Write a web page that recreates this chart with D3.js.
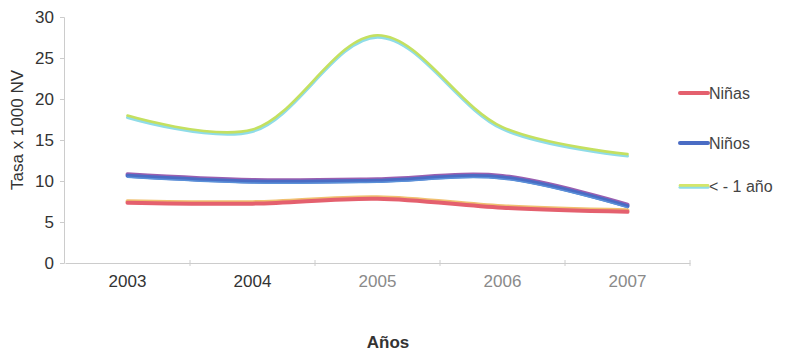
<!DOCTYPE html>
<html><head><meta charset="utf-8">
<script src="https://cdn.jsdelivr.net/npm/d3@7"></script>
<style>body{margin:0;background:#fff}svg{display:block}text{font-family:"Liberation Sans",Arial,sans-serif}</style>
</head><body>
<svg id="c" width="790" height="351"></svg>
<script>
const years = ["2003","2004","2005","2006","2007"];
const ninas = [7.4, 7.3, 7.9, 6.8, 6.3];
const ninos = [10.7, 10.0, 10.1, 10.5, 7.0];
const menor1 = [17.9, 16.2, 27.7, 16.5, 13.2];
const yTicks = [0,5,10,15,20,25,30];

const svg = d3.select("#c");
const x = d3.scaleBand().domain(years).range([65, 690]);
const y = d3.scaleLinear().domain([0,30]).range([263, 17]);

// axes
const gy = svg.append("g").attr("transform","translate(64,0)")
  .call(d3.axisLeft(y).tickValues(yTicks).tickSize(4).tickPadding(6));
gy.select(".domain").attr("stroke","#ccc");
gy.selectAll(".tick line").attr("stroke","#ccc");
gy.selectAll("text").attr("font-size",17).attr("fill","#333");

const gx = svg.append("g").attr("transform","translate(0,263)")
  .call(d3.axisBottom(x).tickSize(0).tickPadding(12));
gx.select(".domain").attr("stroke","#ccc");
gx.selectAll("text").attr("font-size",17).attr("fill",(d,i)=> i<2 ? "#333" : "#8a8a8a");
// band boundary ticks
gx.selectAll(".bt").data(years).enter().append("line")
  .attr("x1",(d,i)=> x(years[0]) + x.bandwidth()*(i+1))
  .attr("x2",(d,i)=> x(years[0]) + x.bandwidth()*(i+1))
  .attr("y1",-3).attr("y2",3).attr("stroke","#ccc");

svg.append("text").attr("x",388).attr("y",348).attr("text-anchor","middle")
  .attr("font-size",17).attr("font-weight","bold").attr("fill","#333").text("Años");
svg.append("text").attr("transform","translate(23,130) rotate(-90)").attr("text-anchor","middle")
  .attr("font-size",17).attr("fill","#333").text("Tasa x 1000 NV");

const line = d3.line().x((d,i)=> x(years[i]) + x.bandwidth()/2).y(d=>y(d)).curve(d3.curveCatmullRom.alpha(0.5));

function draw(data, strokes){
  strokes.forEach(s=>{
    svg.append("path").datum(data).attr("d",line).attr("fill","none")
      .attr("stroke",s.c).attr("stroke-width",s.w).attr("stroke-linecap","round")
      .attr("transform",`translate(0,${s.dy})`);
  });
}
draw(ninas, [{c:"#f0c070",w:4,dy:-1},{c:"#e4606e",w:4,dy:0.5}]);
draw(ninos, [{c:"#9a5fb0",w:4,dy:-1},{c:"#4a6cc4",w:4,dy:0.5},{c:"#5a90d8",w:1.5,dy:2}]);
draw(menor1, [{c:"#8fdce8",w:3,dy:1.3},{c:"#c4e060",w:2.6,dy:-0.6}]);

// legend
const leg = [
  {t:"Niñas", y:93, s:[{c:"#e4606e",w:4,dy:0}]},
  {t:"Niños", y:143, s:[{c:"#4a6cc4",w:4,dy:0}]},
  {t:"< - 1 año", y:186, s:[{c:"#8fdce8",w:3,dy:1.3},{c:"#d4e66a",w:2.6,dy:-0.6}]}
];
leg.forEach(l=>{
  l.s.forEach(s=>{
    svg.append("line").attr("x1",680).attr("x2",708).attr("y1",l.y+s.dy).attr("y2",l.y+s.dy)
      .attr("stroke",s.c).attr("stroke-width",s.w).attr("stroke-linecap","round");
  });
  svg.append("text").attr("x",709).attr("y",l.y+6).attr("font-size",16).attr("fill","#444").text(l.t);
});
</script>
</body></html>
